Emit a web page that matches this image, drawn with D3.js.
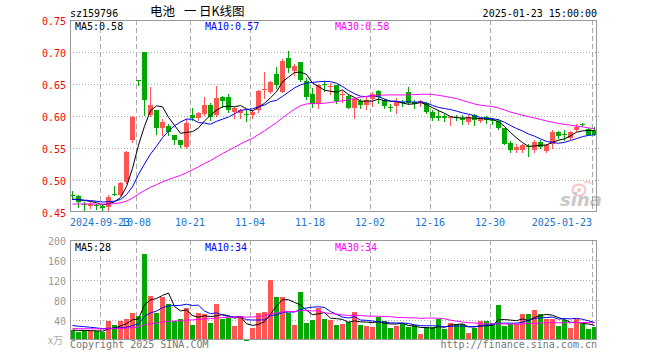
<!DOCTYPE html>
<html><head><meta charset="utf-8">
<script src="https://cdn.jsdelivr.net/npm/d3@7/dist/d3.min.js"></script>
<style>body{margin:0;background:#fff}svg{display:block}</style>
</head><body>
<script>
const dates = ["2024-09-12","2024-09-13","2024-09-18","2024-09-19","2024-09-20","2024-09-23","2024-09-24","2024-09-25","2024-09-26","2024-09-27",
"2024-09-30","2024-10-08","2024-10-09","2024-10-10","2024-10-11","2024-10-14","2024-10-15","2024-10-16","2024-10-17","2024-10-18",
"2024-10-21","2024-10-22","2024-10-23","2024-10-24","2024-10-25","2024-10-28","2024-10-29","2024-10-30","2024-10-31","2024-11-01",
"2024-11-04","2024-11-05","2024-11-06","2024-11-07","2024-11-08","2024-11-11","2024-11-12","2024-11-13","2024-11-14","2024-11-15",
"2024-11-18","2024-11-19","2024-11-20","2024-11-21","2024-11-22","2024-11-25","2024-11-26","2024-11-27","2024-11-28","2024-11-29",
"2024-12-02","2024-12-03","2024-12-04","2024-12-05","2024-12-06","2024-12-09","2024-12-10","2024-12-11","2024-12-12","2024-12-13",
"2024-12-16","2024-12-17","2024-12-18","2024-12-19","2024-12-20","2024-12-23","2024-12-24","2024-12-25","2024-12-26","2024-12-27",
"2024-12-30","2024-12-31","2025-01-02","2025-01-03","2025-01-06","2025-01-07","2025-01-08","2025-01-09","2025-01-10","2025-01-13",
"2025-01-14","2025-01-15","2025-01-16","2025-01-17","2025-01-20","2025-01-21","2025-01-22","2025-01-23"];

const open  = [0.476,0.475,0.463,0.460,0.461,0.459,0.458,0.478,0.477,0.497,
0.563,0.657,0.700,0.602,0.609,0.582,0.584,0.570,0.562,0.552,
0.601,0.597,0.603,0.617,0.602,0.630,0.629,0.607,0.604,0.603,
0.601,0.609,0.641,0.638,0.666,0.638,0.690,0.670,0.684,0.654,
0.634,0.620,0.650,0.647,0.648,0.634,0.632,0.612,0.623,0.617,
0.627,0.639,0.625,0.614,0.615,0.622,0.638,0.622,0.620,0.620,
0.607,0.600,0.600,0.597,0.599,0.597,0.590,0.602,0.592,0.599,
0.594,0.592,0.581,0.558,0.547,0.547,0.553,0.547,0.560,0.545,
0.556,0.575,0.572,0.566,0.578,0.587,0.580,0.578];
const high  = [0.483,0.476,0.465,0.466,0.462,0.462,0.476,0.491,0.497,0.545,
0.600,0.657,0.700,0.646,0.610,0.595,0.588,0.571,0.563,0.595,
0.613,0.606,0.629,0.620,0.647,0.632,0.635,0.614,0.611,0.609,
0.609,0.640,0.668,0.654,0.677,0.689,0.702,0.681,0.685,0.659,
0.643,0.650,0.654,0.652,0.649,0.639,0.635,0.628,0.627,0.631,
0.638,0.640,0.626,0.618,0.628,0.625,0.646,0.625,0.625,0.622,
0.609,0.609,0.603,0.600,0.602,0.601,0.601,0.603,0.597,0.600,
0.597,0.595,0.582,0.561,0.556,0.557,0.557,0.563,0.563,0.556,
0.578,0.576,0.578,0.577,0.587,0.589,0.582,0.583];
const low   = [0.470,0.458,0.453,0.457,0.454,0.452,0.452,0.477,0.476,0.496,
0.559,0.648,0.602,0.600,0.572,0.570,0.570,0.556,0.551,0.550,
0.594,0.594,0.601,0.594,0.600,0.614,0.607,0.597,0.597,0.592,
0.597,0.607,0.628,0.636,0.644,0.637,0.668,0.664,0.654,0.627,
0.614,0.613,0.639,0.634,0.621,0.622,0.612,0.597,0.612,0.611,
0.615,0.621,0.612,0.608,0.604,0.616,0.619,0.613,0.615,0.604,
0.594,0.594,0.592,0.586,0.594,0.587,0.587,0.586,0.591,0.589,
0.588,0.580,0.556,0.544,0.544,0.543,0.538,0.544,0.550,0.544,
0.550,0.566,0.563,0.564,0.577,0.584,0.570,0.570];
const close = [0.475,0.465,0.462,0.462,0.459,0.457,0.474,0.4775,0.496,0.544,
0.599,0.6565,0.625,0.617,0.582,0.591,0.575,0.562,0.555,0.589,
0.597,0.604,0.617,0.599,0.628,0.624,0.609,0.612,0.609,0.602,
0.607,0.639,0.642,0.653,0.648,0.686,0.675,0.678,0.656,0.630,
0.618,0.649,0.649,0.6475,0.623,0.635,0.613,0.627,0.617,0.625,
0.634,0.629,0.615,0.613,0.623,0.621,0.620,0.618,0.623,0.607,
0.597,0.597,0.597,0.598,0.598,0.594,0.599,0.594,0.595,0.594,
0.592,0.581,0.557,0.547,0.552,0.555,0.552,0.560,0.552,0.555,
0.575,0.569,0.571,0.575,0.583,0.586,0.571,0.571];
const volume = [19.4,16.1,20.7,17.4,18.1,16.1,37.4,30.7,37.4,41.4,
54.7,47.4,171.4,87.4,54.1,85.4,71.4,37.4,42.7,63.4,
29.4,54.7,52.7,34.1,71.4,41.4,44.1,28.1,47.4,2,
24.1,54.1,56.7,119.4,86.1,86.1,54.7,29.4,95.4,34.1,
39.4,64.1,41.4,39.4,29.4,31.4,36.1,55.4,29.4,27.4,
25.4,46.1,38.1,23.4,27.4,32.1,25.4,29.4,11.4,25.4,
25.4,42.1,22.7,33.4,31.4,31.4,13.4,24.1,37.4,37.4,
33.4,69.4,27.4,31.4,31.4,51.4,51.4,59.4,51.4,42.7,
42.7,28.1,39.4,24.1,42.7,32.1,21.4,26.1];

const priceMaSeed = {5:0.469, 10:0.469, 30:0.462};
const volMaSeed = {5:20, 10:30, 30:23};
const maPeriods = [5, 10, 30];
const maColors = ["#000000", "#0000ff", "#ff00ff"];
// legend values as printed on the chart
const priceMaLegend = ["0.58", "0.57", "0.58"];
const volMaLegend = ["28", "34", "34"];

const priceTicks = [0.75, 0.70, 0.65, 0.60, 0.55, 0.50, 0.45];
const volTicks = [200, 160, 120, 80, 40];
const dateTicks = ["2024-09-23","2024-10-08","2024-10-21","2024-11-04","2024-11-18","2024-12-02","2024-12-16","2024-12-30","2025-01-23"];
const dateTickLabels = ["2024-09-23","10-08","10-21","11-04","11-18","12-02","12-16","12-30","2025-01-23"];

const code = "sz159796";
const titleParts = ["电池", "一", "日K线图"];
const stamp = "2025-01-23 15:00:00";

const UP = "#ff5555", DOWN = "#00a800";
const MONO = "'DejaVu Sans Mono', 'Liberation Mono', monospace";

function maSeeded(arr, n, seed) {
  return arr.map((_, i) => {
    let s = 0;
    for (let k = 0; k < n; k++) { const j = i - k; s += j >= 0 ? arr[j] : seed; }
    return s / n;
  });
}

const W = 660, H = 360;
const L = 70, R = 598;
const svg = d3.select("body").append("svg").attr("width", W).attr("height", H)
  .style("font-family", MONO);

const x = d3.scaleBand().domain(dates).range([L, R]).padding(0);
const y = d3.scaleLinear().domain([0.45, 0.75]).range([212, 20]);
const yv = d3.scaleLinear().domain([0, 200]).range([340, 240]);
const cx = d => x(d) + 2.5;

// header
svg.append("text").attr("x", 70).attr("y", 16.5).attr("font-size", 10).attr("fill", "#000").text(code);
const titleX = [150, 184, 199];
titleParts.forEach((t, k) => {
  svg.append("text").attr("x", titleX[k]).attr("y", 16).attr("font-size", 12.5)
    .attr("font-family", "'Noto Sans CJK SC', sans-serif").attr("fill", "#000").text(t);
});
svg.append("text").attr("x", 597).attr("y", 16.5).attr("font-size", 10).attr("text-anchor", "end").attr("fill", "#000").text(stamp);

function panelGrid(yScale, ticks, top, bottom) {
  const g = svg.append("g");
  g.selectAll("line.h").data(ticks.filter(t => yScale(t) > top + 1 && yScale(t) < bottom - 1)).join("line")
    .attr("x1", L).attr("x2", 600).attr("y1", t => Math.round(yScale(t)) + 0.5).attr("y2", t => Math.round(yScale(t)) + 0.5)
    .attr("stroke", "#aaa").attr("stroke-dasharray", "1,2");
  g.selectAll("line.v").data(dateTicks).join("line")
    .attr("x1", d => x(d) + 0.5).attr("x2", d => x(d) + 0.5).attr("y1", top).attr("y2", bottom)
    .attr("stroke", "#aaa").attr("stroke-dasharray", "5,3");
  return g;
}
panelGrid(y, priceTicks, 20, 212);
panelGrid(yv, volTicks, 240, 340);

// sina watermark
const wm = svg.append("g").attr("opacity", 0.4);
wm.append("ellipse").attr("cx", 579).attr("cy", 190).attr("rx", 6.5).attr("ry", 5.5).attr("fill", "none").attr("stroke", "#f07070").attr("stroke-width", 2);
wm.append("circle").attr("cx", 579).attr("cy", 190).attr("r", 2).attr("fill", "#f07070");
wm.append("path").attr("d", "M584 183 q4 -3 7 1").attr("fill", "none").attr("stroke", "#f07070").attr("stroke-width", 1.5);
wm.append("text").attr("x", 581).attr("y", 206).attr("text-anchor", "middle").attr("font-size", 18)
  .attr("font-family", "'DejaVu Sans', sans-serif").attr("font-weight", "bold").attr("font-style", "italic")
  .attr("fill", "#777").text("sina");

// candles
const idx = d3.range(dates.length);
const candles = svg.append("g");
candles.selectAll("line").data(idx).join("line")
  .attr("x1", i => cx(dates[i])).attr("x2", i => cx(dates[i]))
  .attr("y1", i => Math.round(y(high[i]))).attr("y2", i => Math.round(y(low[i])) + 1)
  .attr("stroke", i => close[i] > open[i] ? UP : DOWN).attr("stroke-width", 1);
candles.selectAll("rect").data(idx).join("rect")
  .attr("x", i => x(dates[i])).attr("width", 5)
  .attr("y", i => Math.round(y(Math.max(open[i], close[i]))))
  .attr("height", i => Math.max(1, Math.round(y(Math.min(open[i], close[i]))) - Math.round(y(Math.max(open[i], close[i])))))
  .attr("fill", i => close[i] > open[i] ? UP : DOWN);

// volume bars
svg.append("g").selectAll("rect").data(idx).join("rect")
  .attr("x", i => x(dates[i])).attr("width", 5)
  .attr("y", i => Math.min(339, Math.round(yv(volume[i]))))
  .attr("height", i => Math.max(2, 340 - Math.round(yv(volume[i]))))
  .attr("fill", i => close[i] > open[i] ? UP : DOWN);

// MA lines
const priceMA = maPeriods.map(n => maSeeded(close, n, priceMaSeed[n]));
const volMA = maPeriods.map(n => maSeeded(volume, n, volMaSeed[n]));
maPeriods.forEach((n, k) => {
  svg.append("path").datum(priceMA[k])
    .attr("d", d3.line().x((v, i) => cx(dates[i])).y(v => y(v)))
    .attr("fill", "none").attr("stroke", maColors[k]).attr("stroke-width", 1);
  svg.append("path").datum(volMA[k])
    .attr("d", d3.line().x((v, i) => cx(dates[i])).y(v => yv(v)))
    .attr("fill", "none").attr("stroke", maColors[k]).attr("stroke-width", 1);
});

// borders
svg.append("rect").attr("x", 70.5).attr("y", 20.5).attr("width", 526).attr("height", 191).attr("fill", "none").attr("stroke", "#999");
svg.append("rect").attr("x", 70.5).attr("y", 240.5).attr("width", 526).attr("height", 99).attr("fill", "none").attr("stroke", "#999");

// price axis labels
svg.append("g").selectAll("text").data(priceTicks).join("text")
  .attr("x", 66).attr("y", t => y(t) + 4.5).attr("text-anchor", "end").attr("font-size", 10)
  .attr("fill", "#f00").text(t => t.toFixed(2));
// volume axis labels
svg.append("g").selectAll("text").data(volTicks).join("text")
  .attr("x", 66).attr("y", t => yv(t) + 4.5).attr("text-anchor", "end").attr("font-size", 10)
  .attr("fill", "#999").text(t => t);
svg.append("text").attr("x", 63).attr("y", 344).attr("text-anchor", "end").attr("font-size", 10)
  .attr("font-family", "'Noto Sans CJK SC', sans-serif").attr("fill", "#aaa").text("x万");

// date labels
svg.append("g").selectAll("text").data(dateTicks).join("text")
  .attr("x", d => x(d))
  .attr("y", 225.5).attr("font-size", 10)
  .attr("text-anchor", (d, i) => i === dateTicks.length - 1 ? "end" : "middle")
  .attr("fill", "#1874cd").text((d, i) => dateTickLabels[i]);

// MA legends
const legX = [75, 205, 335];
maPeriods.forEach((n, k) => {
  svg.append("text").attr("x", legX[k]).attr("y", 30).attr("font-size", 10).attr("fill", maColors[k])
    .text(`MA${n}:${priceMaLegend[k]}`);
  svg.append("text").attr("x", legX[k]).attr("y", 250.5).attr("font-size", 10).attr("fill", maColors[k])
    .text(`MA${n}:${volMaLegend[k]}`);
});

// footer
svg.append("text").attr("x", 70).attr("y", 348).attr("font-size", 10).attr("fill", "#777").text("Copyright 2025 SINA.COM");
svg.append("text").attr("x", 597).attr("y", 348).attr("font-size", 10).attr("text-anchor", "end").attr("fill", "#777").text("http://finance.sina.com.cn");
</script>
</body></html>
